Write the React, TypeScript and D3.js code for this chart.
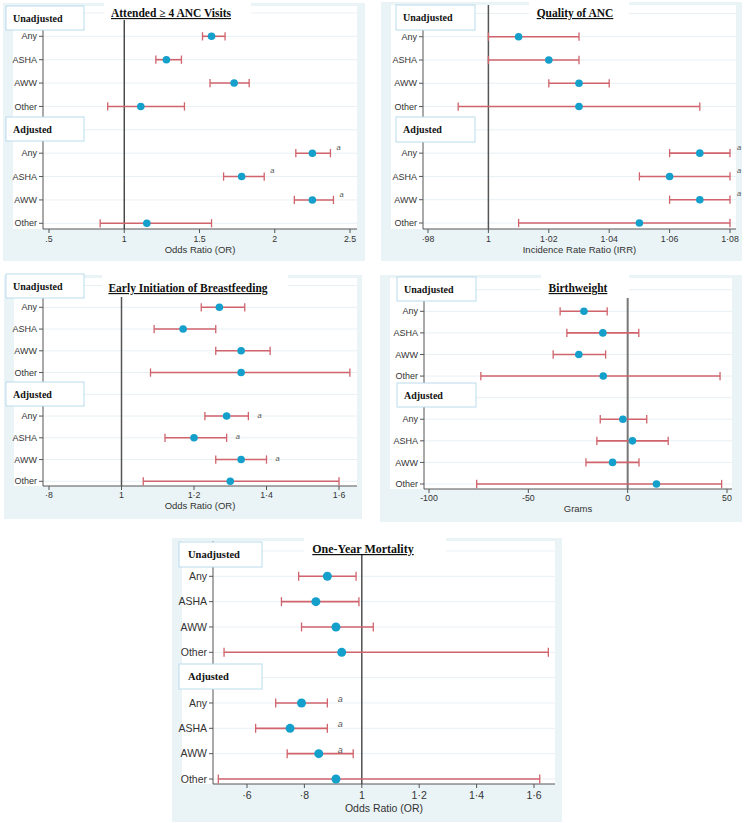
import React from "react";
import * as d3 from "d3";

// rows: unadjusted (1-4) then adjusted (6-9); headers sit at 0 and 5
const rowLabels = ["Any", "ASHA", "AWW", "Other"];
const rowPos = [1, 2, 3, 4, 6, 7, 8, 9];

// Attended >= 4 ANC visits, odds ratio
const ancEst = [1.58, 1.28, 1.73, 1.11, 2.25, 1.78, 2.25, 1.15];
const ancLo = [1.52, 1.21, 1.57, 0.89, 2.14, 1.66, 2.13, 0.84];
const ancHi = [1.67, 1.38, 1.83, 1.4, 2.37, 1.93, 2.39, 1.58];
const ancSig = [0, 0, 0, 0, 1, 1, 1, 0];
const ancTicks = [0.5, 1, 1.5, 2, 2.5];
const ancTickLabels = [".5", "1", "1.5", "2", "2.5"];

// Quality of ANC, incidence rate ratio
const qualEst = [1.01, 1.02, 1.03, 1.03, 1.07, 1.06, 1.07, 1.05];
const qualLo = [1.0, 1.0, 1.02, 0.99, 1.06, 1.05, 1.06, 1.01];
const qualHi = [1.03, 1.03, 1.04, 1.07, 1.08, 1.08, 1.08, 1.08];
const qualSig = [0, 0, 0, 0, 1, 1, 1, 0];
const qualTicks = [0.98, 1, 1.02, 1.04, 1.06, 1.08];
const qualTickLabels = ["·98", "1", "1·02", "1·04", "1·06", "1·08"];

// Early initiation of breastfeeding, odds ratio
const bfEst = [1.27, 1.17, 1.33, 1.33, 1.29, 1.2, 1.33, 1.3];
const bfLo = [1.22, 1.09, 1.26, 1.08, 1.23, 1.12, 1.26, 1.06];
const bfHi = [1.34, 1.26, 1.41, 1.63, 1.35, 1.29, 1.4, 1.6];
const bfSig = [0, 0, 0, 0, 1, 1, 1, 0];
const bfTicks = [0.8, 1, 1.2, 1.4, 1.6];
const bfTickLabels = ["·8", "1", "1·2", "1·4", "1·6"];

// Birthweight, grams
const bwEst = [-22, -12.5, -24.6, -12.3, -2.4, 2.4, -7.6, 14.5];
const bwLo = [-34, -30.6, -37.5, -73.9, -13.8, -15.5, -21, -76];
const bwHi = [-10.3, 5.6, -11.1, 46.5, 9.6, 20.4, 5.7, 47.3];
const bwSig = [0, 0, 0, 0, 0, 0, 0, 0];
const bwTicks = [-100, -50, 0, 50];
const bwTickLabels = ["-100", "-50", "0", "50"];

// One-year mortality, odds ratio
const mortEst = [0.88, 0.84, 0.91, 0.93, 0.79, 0.75, 0.85, 0.91];
const mortLo = [0.78, 0.72, 0.79, 0.52, 0.7, 0.63, 0.74, 0.5];
const mortHi = [0.98, 0.99, 1.04, 1.65, 0.88, 0.88, 0.97, 1.62];
const mortSig = [0, 0, 0, 0, 1, 1, 1, 0];
const mortTicks = [0.6, 0.8, 1, 1.2, 1.4, 1.6];
const mortTickLabels = ["·6", "·8", "1", "1·2", "1·4", "1·6"];

const BG = "#eaf3f6";
const GRID = "#e8f0f4";
const BAR = "#d0636b";
const DOT = "#159fcb";
const BOXLINE = "#b9dcec";
const SANS = "'Liberation Sans', Arial, sans-serif";
const SERIF = "'Liberation Serif', 'Times New Roman', serif";

const panels = [
  {
    title: "Attended \u2265 4 ANC Visits", xTitle: "Odds Ratio (OR)",
    est: ancEst, lo: ancLo, hi: ancHi, sig: ancSig, ticks: ancTicks, tickLabels: ancTickLabels,
    domain: [0.5, 2.5], ref: 1,
    bg: [3, 3, 362, 258], axisX: 43, right: 357, range: [49, 350], yRange: [36.3, 223.3], axisY: 229,
    titleBox: [104, 0, 147, 20], titleX: 171, titleY: 17, titleSize: 11.5,
    box: [6, 78, 24], unadjTop: 6, adjTop: 117, headSize: 10,
    fs: 9, tfs: 8.8, xtFs: 9.5, tickDy: 9.5, titleDy: 21, r: 3.8,
    refColor: "#333", refW: 1.3, sigDx: 6, sigDy: -6, sigAt: null,
  },
  {
    title: "Quality of ANC", xTitle: "Incidence Rate Ratio (IRR)",
    est: qualEst, lo: qualLo, hi: qualHi, sig: qualSig, ticks: qualTicks, tickLabels: qualTickLabels,
    domain: [0.98, 1.08], ref: 1,
    bg: [381, 2, 361, 259], axisX: 423, right: 736, range: [428, 730], yRange: [36.7, 223], axisY: 229,
    titleBox: [529, 0, 100, 20], titleX: 575, titleY: 17, titleSize: 11.5,
    box: [396, 79, 25], unadjTop: 5, adjTop: 117, headSize: 10,
    fs: 9, tfs: 8.8, xtFs: 9.5, tickDy: 9.5, titleDy: 21, r: 3.8,
    refColor: "#555", refW: 1.5, sigDx: 7, sigDy: -6, sigAt: null,
  },
  {
    title: "Early Initiation of Breastfeeding", xTitle: "Odds Ratio (OR)",
    est: bfEst, lo: bfLo, hi: bfHi, sig: bfSig, ticks: bfTicks, tickLabels: bfTickLabels,
    domain: [0.8, 1.6], ref: 1,
    bg: [4, 275, 358, 244], axisX: 43, right: 357, range: [49, 339], yRange: [307.3, 481.3], axisY: 486,
    titleBox: [102, 275, 186, 22], titleX: 188, titleY: 292, titleSize: 11.5,
    box: [6, 78, 24], unadjTop: 274, adjTop: 382, headSize: 10,
    fs: 9, tfs: 8.8, xtFs: 9.5, tickDy: 9, titleDy: 20, r: 3.8,
    refColor: "#555", refW: 1.5, sigDx: 9, sigDy: -1, sigAt: null,
  },
  {
    title: "Birthweight", xTitle: "Grams",
    est: bwEst, lo: bwLo, hi: bwHi, sig: bwSig, ticks: bwTicks, tickLabels: bwTickLabels,
    domain: [-100, 50], ref: 0,
    bg: [380, 275, 362, 247], axisX: 424, right: 732, range: [429, 727], yRange: [311.3, 484], axisY: 489,
    titleBox: [541, 275, 88, 23], titleX: 578, titleY: 292, titleSize: 11.5,
    box: [397, 79, 24], unadjTop: 277, adjTop: 383, headSize: 10,
    fs: 9, tfs: 8.8, xtFs: 9.5, tickDy: 8.5, titleDy: 20, r: 3.8,
    refColor: "#777", refW: 2, sigDx: 6, sigDy: -6, sigAt: null,
  },
  {
    title: "One-Year Mortality", xTitle: "Odds Ratio (OR)",
    est: mortEst, lo: mortLo, hi: mortHi, sig: mortSig, ticks: mortTicks, tickLabels: mortTickLabels,
    domain: [0.6, 1.6], ref: 1,
    bg: [172, 538, 390, 284], axisX: 213, right: 555, range: [247, 534], yRange: [576.3, 779], axisY: 784,
    titleBox: [304, 537, 142, 18], titleX: 363, titleY: 553, titleSize: 12,
    box: [179, 83, 25], unadjTop: 542, adjTop: 664, headSize: 10.5,
    fs: 10.5, tfs: 10.5, xtFs: 10.5, tickDy: 11, titleDy: 24, r: 4.5,
    refColor: "#444", refW: 1.4, sigDx: 0, sigDy: -4, sigAt: 0.916,
  },
];

function Panel({ p }: { p: any }) {
  const x = d3.scaleLinear().domain(p.domain).range(p.range);
  const y = d3.scaleLinear().domain([1, 9]).range(p.yRange);
  const [bx, by, bw, bh] = p.bg;
  const innerTop = by + 3;
  const gridPos = d3.range(0, 10);
  const cap = p.r + 2.5;
  const pts = p.est.map((e: number, i: number) => ({
    e, lo: p.lo[i], hi: p.hi[i], sig: p.sig[i], pos: rowPos[i], label: rowLabels[i % 4],
  }));
  const [boxX, boxW, boxH] = p.box;
  return (
    <g>
      <rect x={bx} y={by} width={bw} height={bh} fill={BG} />
      <rect x={bx + 10} y={innerTop} width={p.right - bx - 10} height={p.axisY - innerTop} fill="#fff" />
      {gridPos.map((g) => (
        <line key={"g" + g} x1={p.axisX} x2={p.right} y1={y(g)} y2={y(g)} stroke={GRID} strokeWidth={1} />
      ))}
      {/* y axis */}
      <line x1={p.axisX} x2={p.axisX} y1={innerTop} y2={p.axisY} stroke="#555" strokeWidth={1} />
      {pts.map((d: any, i: number) => (
        <g key={"yl" + i}>
          <line x1={p.axisX - 4} x2={p.axisX} y1={y(d.pos)} y2={y(d.pos)} stroke="#555" />
          <text x={p.axisX - 6} y={y(d.pos)} dy="0.35em" textAnchor="end" fontFamily={SANS} fontSize={p.fs} fill="#333">
            {d.label}
          </text>
        </g>
      ))}
      {/* x axis */}
      <line x1={p.axisX} x2={p.right} y1={p.axisY} y2={p.axisY} stroke="#555" strokeWidth={1} />
      {p.ticks.map((t: number, i: number) => (
        <g key={"xt" + i}>
          <line x1={x(t)} x2={x(t)} y1={p.axisY} y2={p.axisY + 4} stroke="#555" />
          <text x={x(t)} y={p.axisY + p.tickDy} dy="0.35em" textAnchor="middle" fontFamily={SANS} fontSize={p.tfs} fill="#333">
            {p.tickLabels[i]}
          </text>
        </g>
      ))}
      <text x={(p.axisX + p.right) / 2} y={p.axisY + p.titleDy} dy="0.35em" textAnchor="middle" fontFamily={SANS} fontSize={p.xtFs} fill="#333">
        {p.xTitle}
      </text>
      {/* reference line */}
      <line x1={x(p.ref)} x2={x(p.ref)} y1={innerTop} y2={p.axisY} stroke={p.refColor} strokeWidth={p.refW} />
      {/* estimates */}
      {pts.map((d: any, i: number) => (
        <g key={"pt" + i}>
          <line x1={x(d.lo)} x2={x(d.hi)} y1={y(d.pos)} y2={y(d.pos)} stroke={BAR} strokeWidth={1.6} />
          <line x1={x(d.lo)} x2={x(d.lo)} y1={y(d.pos) - cap / 2 - 1} y2={y(d.pos) + cap / 2 + 1} stroke={BAR} strokeWidth={1.3} />
          <line x1={x(d.hi)} x2={x(d.hi)} y1={y(d.pos) - cap / 2 - 1} y2={y(d.pos) + cap / 2 + 1} stroke={BAR} strokeWidth={1.3} />
          <circle cx={x(d.e)} cy={y(d.pos)} r={p.r} fill={DOT} />
          {d.sig ? (
            <text
              x={(p.sigAt != null ? x(p.sigAt) : x(d.hi)) + p.sigDx}
              y={y(d.pos) + p.sigDy}
              dy="0.35em"
              fontFamily={SANS}
              fontStyle="italic"
              fontSize={p.fs - 1.5}
              fill="#555"
            >
              a
            </text>
          ) : null}
        </g>
      ))}
      {/* group headers */}
      {[["Unadjusted", p.unadjTop], ["Adjusted", p.adjTop]].map(([txt, top]: any) => (
        <g key={txt}>
          <rect x={boxX} y={top} width={boxW} height={boxH} fill="#fff" stroke={BOXLINE} strokeWidth={1} />
          <text x={boxX + (boxW > 80 ? 9 : 7)} y={top + boxH / 2} dy="0.35em" fontFamily={SERIF} fontWeight="bold" fontSize={p.headSize} fill="#111">
            {txt}
          </text>
        </g>
      ))}
      {/* title */}
      <rect x={p.titleBox[0]} y={p.titleBox[1]} width={p.titleBox[2]} height={p.titleBox[3]} fill="#fff" />
      <text x={p.titleX} y={p.titleY} textAnchor="middle" fontFamily={SERIF} fontWeight="bold" fontSize={p.titleSize} fill="#111" style={{ textDecoration: "underline" }}>
        {p.title}
      </text>
    </g>
  );
}

export default function App() {
  return (
    <svg width={745} height={823} style={{ position: "absolute", left: 0, top: 0, background: "#fff" }}>
      {panels.map((p, i) => (
        <Panel key={i} p={p} />
      ))}
    </svg>
  );
}
